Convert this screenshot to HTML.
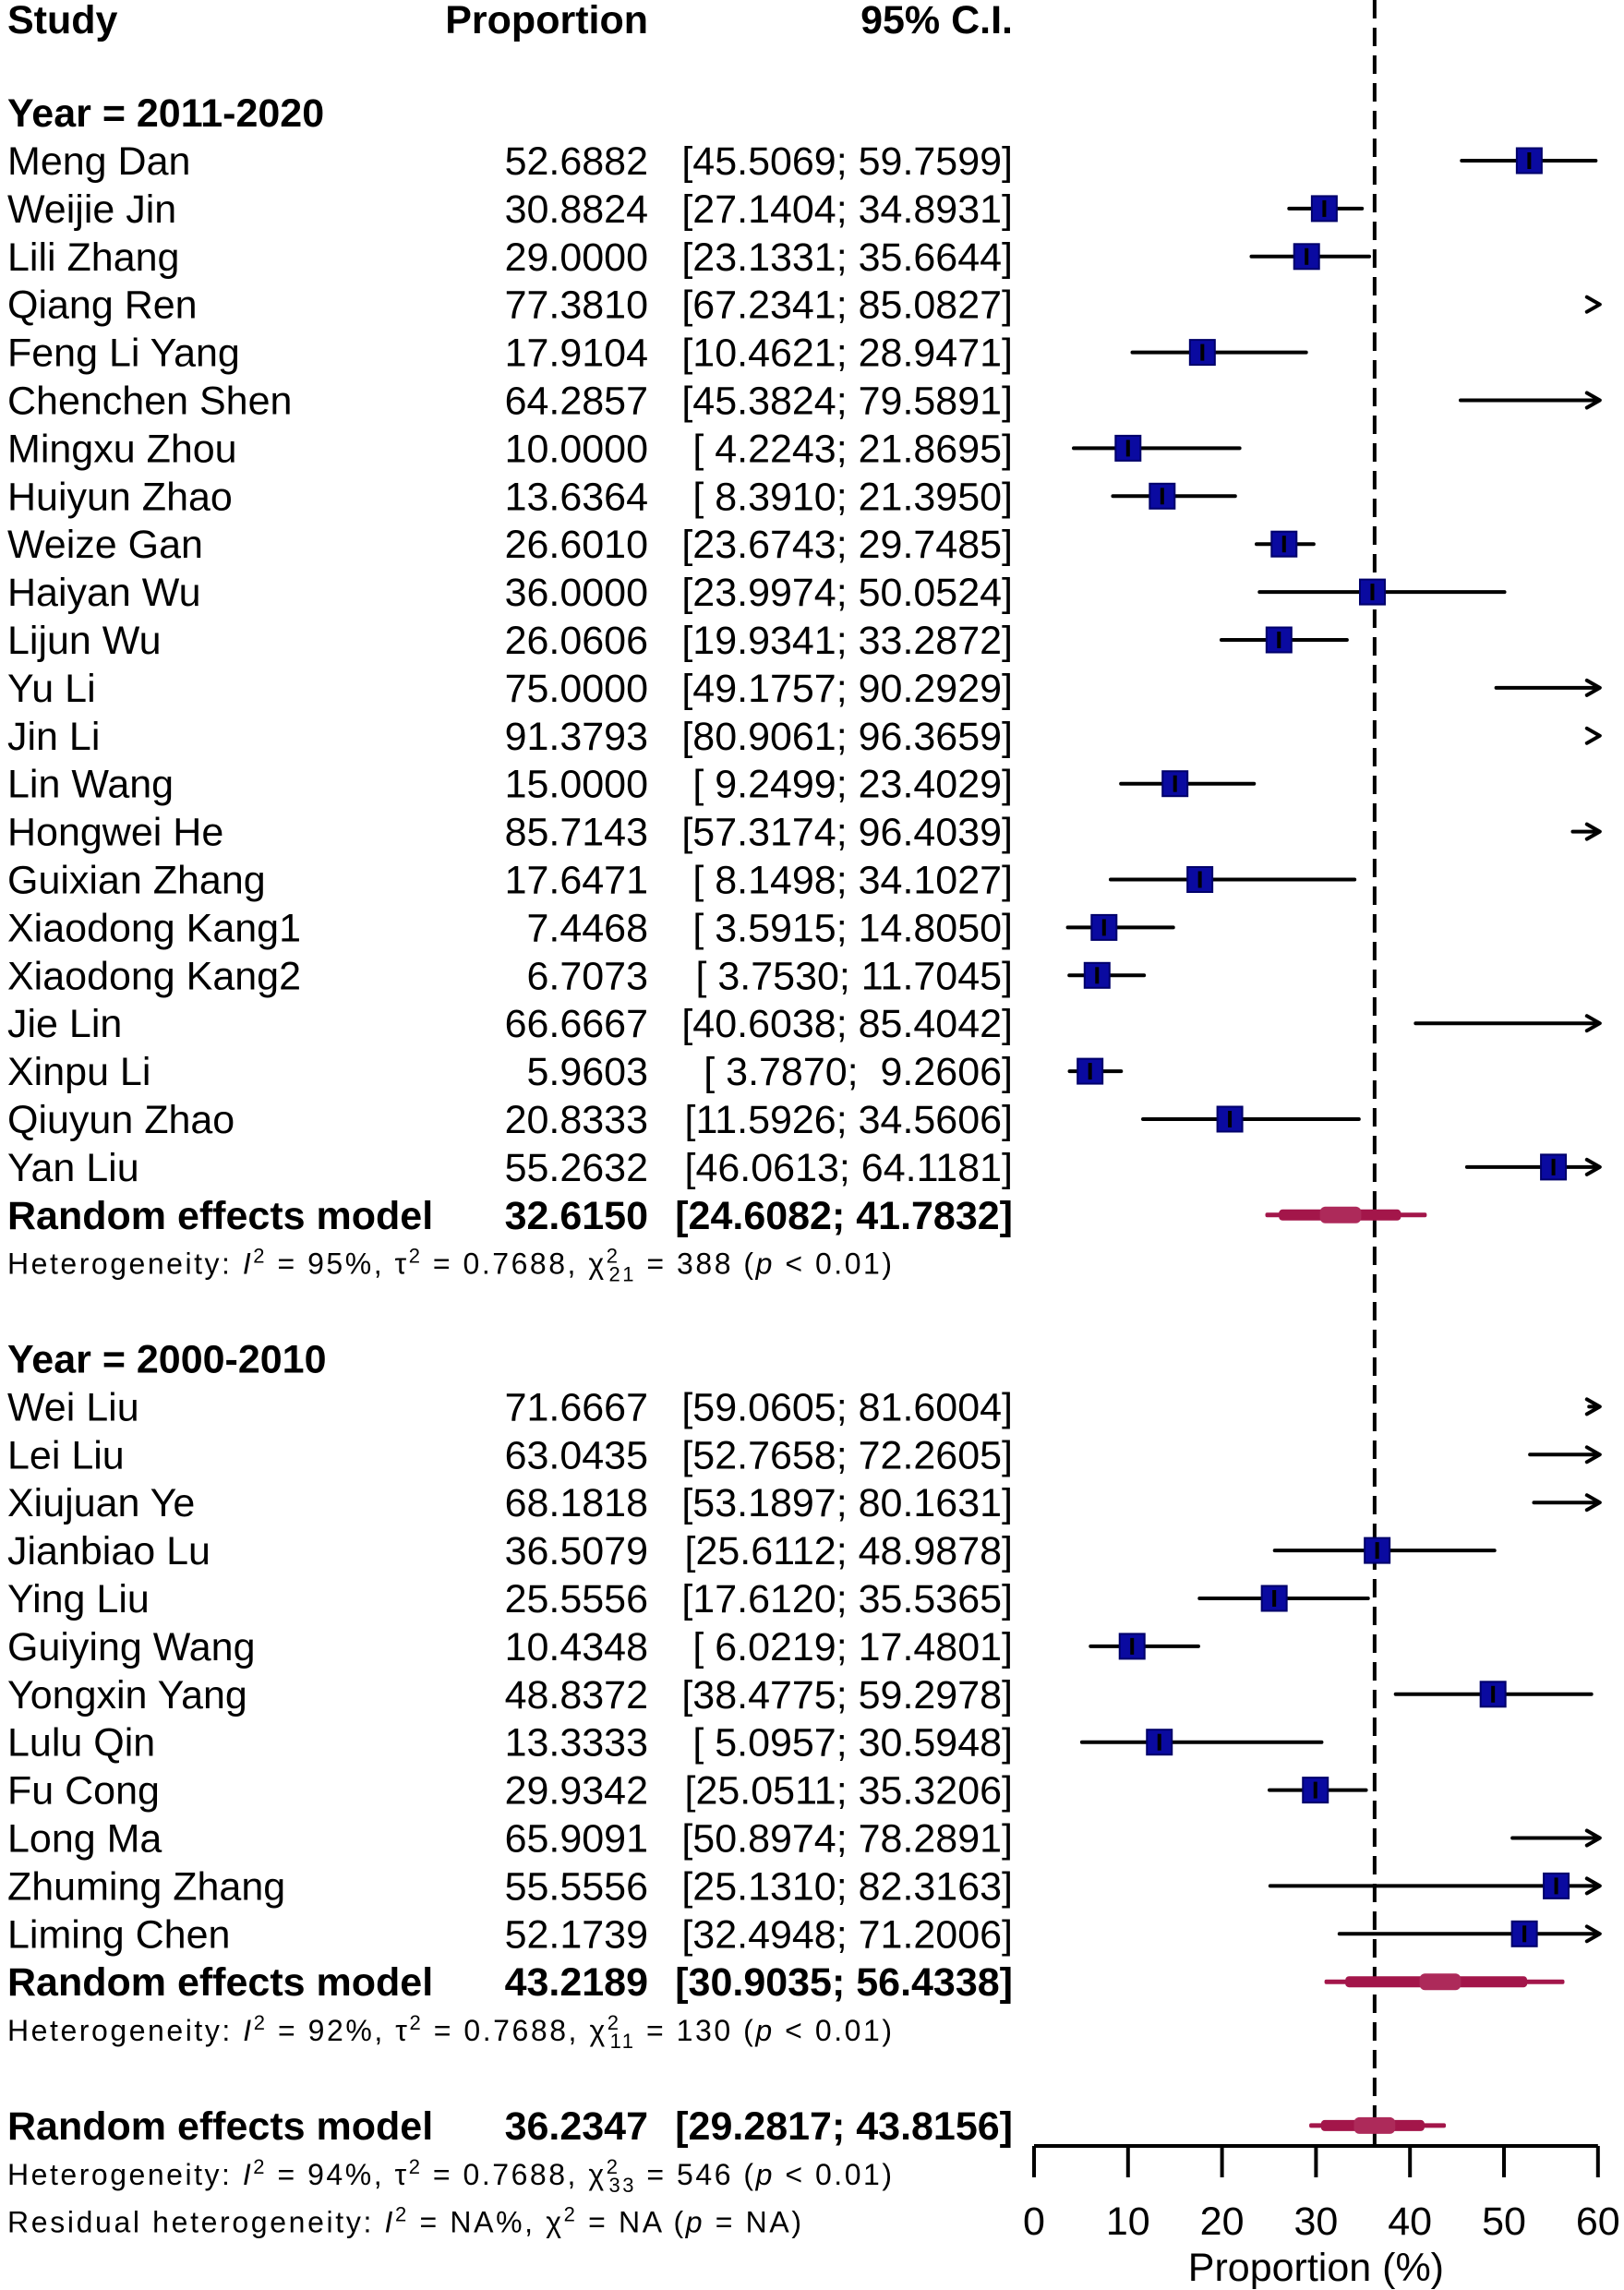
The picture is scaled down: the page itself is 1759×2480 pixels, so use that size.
<!DOCTYPE html>
<html><head><meta charset="utf-8"><style>
html,body{margin:0;padding:0;background:#fff;}
svg{display:block;}
text{font-family:"Liberation Sans",Arial,sans-serif;fill:#000;}
</style></head><body>
<svg id="chart" width="1759" height="2480" viewBox="0 0 1759 2480" xmlns="http://www.w3.org/2000/svg"></svg>
<script>
const studies1 = ["Meng Dan","Weijie Jin","Lili Zhang","Qiang Ren","Feng Li Yang","Chenchen Shen","Mingxu Zhou","Huiyun Zhao","Weize Gan","Haiyan Wu","Lijun Wu","Yu Li","Jin Li","Lin Wang","Hongwei He","Guixian Zhang","Xiaodong Kang1","Xiaodong Kang2","Jie Lin","Xinpu Li","Qiuyun Zhao","Yan Liu"];
const props1 = [52.6882,30.8824,29.0000,77.3810,17.9104,64.2857,10.0000,13.6364,26.6010,36.0000,26.0606,75.0000,91.3793,15.0000,85.7143,17.6471,7.4468,6.7073,66.6667,5.9603,20.8333,55.2632];
const lo1 = [45.5069,27.1404,23.1331,67.2341,10.4621,45.3824,4.2243,8.3910,23.6743,23.9974,19.9341,49.1757,80.9061,9.2499,57.3174,8.1498,3.5915,3.7530,40.6038,3.7870,11.5926,46.0613];
const hi1 = [59.7599,34.8931,35.6644,85.0827,28.9471,79.5891,21.8695,21.3950,29.7485,50.0524,33.2872,90.2929,96.3659,23.4029,96.4039,34.1027,14.8050,11.7045,85.4042,9.2606,34.5606,64.1181];
const studies2 = ["Wei Liu","Lei Liu","Xiujuan Ye","Jianbiao Lu","Ying Liu","Guiying Wang","Yongxin Yang","Lulu Qin","Fu Cong","Long Ma","Zhuming Zhang","Liming Chen"];
const props2 = [71.6667,63.0435,68.1818,36.5079,25.5556,10.4348,48.8372,13.3333,29.9342,65.9091,55.5556,52.1739];
const lo2 = [59.0605,52.7658,53.1897,25.6112,17.6120,6.0219,38.4775,5.0957,25.0511,50.8974,25.1310,32.4948];
const hi2 = [81.6004,72.2605,80.1631,48.9878,35.5365,17.4801,59.2978,30.5948,35.3206,78.2891,82.3163,71.2006];
const reEst = [32.6150,43.2189,36.2347];
const reLo = [24.6082,30.9035,29.2817];
const reHi = [41.7832,56.4338,43.8156];
const ticks = [0,10,20,30,40,50,60];

const NS="http://www.w3.org/2000/svg";
const svg=document.getElementById('chart');
const X0=1120, PX=10.18, XMIN=0, XMAX=60;
function xs(v){return X0+(v-XMIN)*PX;}
function rowY(i){return 174+51.9*i;}
function el(tag,attrs,parent){const e=document.createElementNS(NS,tag);for(const k in attrs)e.setAttribute(k,attrs[k]);(parent||svg).appendChild(e);return e;}
function txt(s,x,y,opts){const t=el('text',Object.assign({x:x,y:y,'font-size':opts.size||43},opts.attrs||{}));
  if(opts.anchor)t.setAttribute('text-anchor',opts.anchor);
  if(opts.bold)t.setAttribute('font-weight','bold');
  t.textContent=s;return t;}
function fmt(v){return v.toFixed(4);}
function fmtCI(l,h){let a=l.toFixed(4);if(l<10)a=' '+a;let b=h.toFixed(4);if(h<10)b=' '+b;return '['+a+'; '+b+']';}

let t;
t=txt('Study',8,36,{bold:true});
t=txt('Proportion',702,36,{bold:true,anchor:'end'});
t=txt('95% C.I.',1097,36,{bold:true,anchor:'end'});

function studyRow(name,p,l,h,i){
  const y=rowY(i), by=y+15;
  const g=el('g',{});
  
  
  let a=txt(name,8,by,{});g.appendChild(a);
  
  a=txt(fmt(p),702,by,{anchor:'end'});g.appendChild(a);
  
  a=txt(fmtCI(l,h),1097,by,{anchor:'end'});a.style.whiteSpace='pre';g.appendChild(a);
  
  const ll=Math.max(l,XMIN), hh=Math.min(h,XMAX);
  if(l<XMAX){
    const ln=el('line',{x1:xs(ll),x2:xs(hh)-(h>XMAX?4:0),y1:y,y2:y,stroke:'#000','stroke-width':4,'stroke-linecap':'round'},g);
    
  }
  if(h>XMAX){
    const ax=xs(XMAX)+2;
    const ar=el('path',{d:`M${ax-14},${y-8} L${ax},${y} L${ax-14},${y+8}`,fill:'none',stroke:'#000','stroke-width':4,'stroke-linecap':'round','stroke-linejoin':'round'},g);
    
  }
  if(p>=XMIN&&p<=XMAX){
    const s=27;
    const r=el('rect',{x:xs(p)-s/2,y:y-s/2,width:s,height:s,fill:'#0a0aa0',stroke:'#00006a','stroke-width':2},g);
    
    const c=el('line',{x1:xs(p),x2:xs(p),y1:y-9,y2:y+9,stroke:'#000','stroke-width':4},g);
    
  }
}
function reRow(k,i,label){
  const y=rowY(i), by=y+15;
  const g=el('g',{});
  
  
  let a=txt('Random effects model',8,by,{bold:true});g.appendChild(a);
  a=txt(fmt(reEst[k]),702,by,{bold:true,anchor:'end'});g.appendChild(a);
  a=txt(fmtCI(reLo[k],reHi[k]),1097,by,{bold:true,anchor:'end'});g.appendChild(a);
  const e=reEst[k],l=reLo[k],h=reHi[k];
  const c='#a3164a';
  el('rect',{x:xs(l),y:y-2.5,width:xs(h)-xs(l),height:5,fill:c,rx:2},g);
  const ml=e-(e-l)*0.82, mh=e+(h-e)*0.7;
  el('rect',{x:xs(ml),y:y-6,width:xs(mh)-xs(ml),height:12,fill:c,rx:4},g);
  el('rect',{x:xs(e-2.2),y:y-9,width:xs(e+2.2)-xs(e-2.2),height:18,fill:'#ad2a5a',rx:6},g);
}
function hetRow(i,I2,chiSub,chi){
  const y=rowY(i)+12;
  const t=el('text',{x:8,y:y,'font-size':32,textLength:958,lengthAdjust:'spacing'});
  
  
  t.innerHTML=`Heterogeneity: <tspan font-style="italic">I</tspan><tspan dy="-12" font-size="22">2</tspan><tspan dy="12"> = ${I2}%, τ</tspan><tspan dy="-12" font-size="22">2</tspan><tspan dy="12"> = 0.7688, χ</tspan><tspan dy="-12" font-size="22">2</tspan><tspan dx="-12" dy="20" font-size="22">${chiSub}</tspan><tspan dy="-8"> = ${chi} (</tspan><tspan font-style="italic">p</tspan><tspan> &lt; 0.01)</tspan>`;
}

const dl=el('line',{x1:xs(reEst[2]),x2:xs(reEst[2]),y1:0,y2:2322,stroke:'#000','stroke-width':4,'stroke-dasharray':'20 10'});



t=txt('Year = 2011-2020',8,rowY(-1)+15,{bold:true});
studies1.forEach((s,j)=>studyRow(s,props1[j],lo1[j],hi1[j],j));
reRow(0,22,'random-effects-2011-2020');
hetRow(23,95,'21',388);
t=txt('Year = 2000-2010',8,rowY(25)+15,{bold:true});
studies2.forEach((s,j)=>studyRow(s,props2[j],lo2[j],hi2[j],26+j));
reRow(1,38,'random-effects-2000-2010');
hetRow(39,92,'11',130);
reRow(2,41,'random-effects-overall');
hetRow(42,94,'33',546);
const rt=el('text',{x:8,y:rowY(43)+12,'font-size':32,textLength:860,lengthAdjust:'spacing'});


rt.innerHTML='Residual heterogeneity: <tspan font-style="italic">I</tspan><tspan dy="-12" font-size="22">2</tspan><tspan dy="12"> = NA%, χ</tspan><tspan dy="-12" font-size="22">2</tspan><tspan dy="12"> = NA (</tspan><tspan font-style="italic">p</tspan> = NA)';

const ax=el('g',{});


el('line',{x1:xs(XMIN),x2:xs(XMAX),y1:2324,y2:2324,stroke:'#000','stroke-width':4},ax);
ticks.forEach(v=>{
  const tk=el('line',{x1:xs(v),x2:xs(v),y1:2324,y2:2358,stroke:'#000','stroke-width':4},ax);
  
  
  const lb=txt(String(v),xs(v),2420,{anchor:'middle'});ax.appendChild(lb);
  
  
});
t=txt('Proportion (%)',xs(30),2470,{anchor:'middle'});


</script>
</body></html>
